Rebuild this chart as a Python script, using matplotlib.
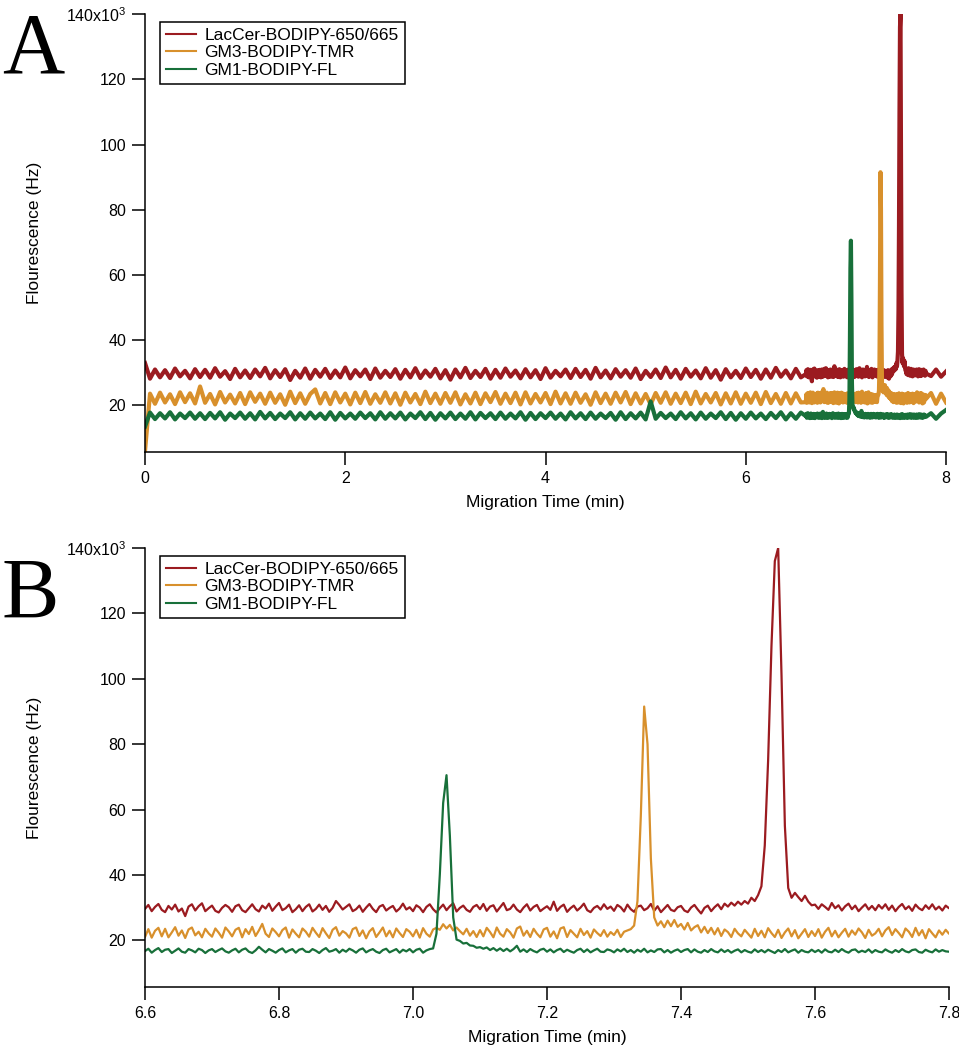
import numpy as np
import matplotlib
matplotlib.use('Agg')
import matplotlib.pyplot as plt

plt.rcParams['font.family'] = ['Liberation Sans', 'DejaVu Sans']
plt.rcParams['mathtext.fontset'] = 'custom'
plt.rcParams['mathtext.rm'] = 'Liberation Sans'
plt.rcParams['mathtext.it'] = 'Liberation Sans'
plt.rcParams['mathtext.bf'] = 'Liberation Sans'

names = ['LacCer-BODIPY-650/665', 'GM3-BODIPY-TMR', 'GM1-BODIPY-FL']
colors = ['#9b1b20', '#d8902c', '#18703a']

# sampling times (min): coarse 0-6.55, fine 6.6-7.8, coarse 7.85-8
t_early = np.arange(132) * 0.05
t_zoom = 6.6 + np.arange(241) * 0.005
t_late = np.array([7.85, 7.90, 7.95, 8.00])

# fluorescence, x10^3 Hz
lac_early = [
    33.0, 28.2, 31.0, 28.6, 30.8, 28.4, 31.3, 28.9, 30.6, 28.3, 31.1, 28.7,
    30.9, 28.5, 31.4, 28.8, 30.5, 28.1, 31.2, 28.6, 30.7, 28.4, 31.0, 28.9,
    31.5, 28.3, 30.8, 28.7, 31.1, 27.8, 30.6, 28.5, 31.3, 28.2, 30.9, 28.8,
    31.2, 28.4, 30.7, 28.6, 31.6, 28.3, 30.8, 28.9, 31.0, 28.1, 31.3, 28.5,
    30.6, 28.7, 31.1, 28.2, 30.9, 28.6, 31.4, 28.4, 30.7, 28.8, 31.2, 28.3,
    30.8, 27.9, 31.0, 28.6, 31.5, 28.4, 30.6, 28.7, 31.2, 28.2, 30.9, 28.5,
    31.3, 28.8, 30.7, 28.3, 31.1, 28.6, 30.8, 28.1, 31.4, 28.5, 30.6, 28.9,
    31.0, 28.4, 31.2, 28.7, 30.9, 28.2, 31.5, 28.6, 30.7, 28.3, 31.1, 28.8,
    30.8, 28.5, 31.3, 28.1, 30.6, 28.7, 31.0, 28.4, 31.6, 28.6, 30.9, 28.2,
    31.2, 28.8, 30.7, 28.3, 31.4, 28.5, 30.8, 27.9, 31.1, 28.6, 30.6, 28.4,
    31.3, 28.7, 30.9, 28.2, 31.0, 28.5, 31.5, 28.8, 30.7, 28.3, 31.2, 28.6,
]
lac_zoom = [
    29.6, 30.8, 28.9, 30.2, 31.1, 29.3, 28.6, 30.5, 29.4, 30.9, 28.8, 29.7, 27.4, 30.3, 31.0, 29.1, 30.4, 31.3, 28.9, 29.8,
    30.6, 29.0, 28.5, 29.9, 30.8, 30.1, 28.7, 30.4, 30.9, 29.2, 28.6, 29.8, 31.0, 29.5, 28.8, 30.6, 29.7, 31.2, 29.0, 30.3,
    31.4, 29.2, 29.8, 30.9, 28.6, 29.5, 30.7, 28.9, 30.2, 31.0, 28.8, 29.6, 30.9, 29.3, 30.5, 28.7, 29.9, 32.0, 30.8, 29.4,
    30.2, 31.0, 28.9, 29.5, 30.6, 28.7, 30.0, 31.1, 29.6, 28.6, 30.3, 30.8, 29.1, 29.9, 30.5, 28.8, 29.7, 31.2, 29.4, 30.1,
    28.9, 30.7, 30.0, 28.6, 30.2, 31.0, 29.5, 28.5, 29.8, 30.9, 29.2, 30.4, 31.3, 28.8, 29.9, 30.6, 29.3, 28.7, 30.2, 30.8,
    29.5, 31.1, 29.0, 30.3, 30.7, 28.8, 30.1, 31.4, 29.2, 29.6, 30.9, 29.4, 28.6, 30.0, 31.0, 29.1, 30.2, 30.8, 28.9, 29.7,
    30.4, 29.3, 31.8, 29.0, 30.2, 30.9, 28.7, 29.8, 30.6, 29.1, 30.0, 31.2, 29.2, 28.6, 29.9, 30.5, 29.4, 31.0, 29.6, 30.3,
    29.0, 30.8, 30.1, 28.8, 30.9, 29.5, 28.7, 30.3, 30.6, 29.2, 29.8, 31.1, 29.0, 30.4, 28.6, 29.7, 30.8, 29.3, 28.9, 30.1,
    30.5, 29.1, 28.6, 30.0, 30.8, 29.4, 28.2, 29.9, 30.6, 28.9, 30.1, 31.0, 29.5, 31.2, 30.3, 31.5, 30.6, 31.8, 30.9, 32.0,
    31.2, 33.0, 32.0, 33.8, 36.5, 49.0, 75.0, 110.0, 136.0, 140.0, 101.0, 55.0, 36.0, 33.0, 34.5, 33.2, 32.0, 33.6, 31.8, 30.7,
    30.9, 29.6, 31.0, 30.2, 29.3, 31.4, 29.8, 30.7, 29.1, 30.4, 31.2, 29.5, 30.6, 28.9, 30.0, 31.0, 29.4, 30.5, 29.2, 30.8,
    29.7, 31.0, 29.3, 30.6, 28.9, 30.2, 31.1, 29.5, 30.4, 29.0, 30.9, 29.8, 29.2, 30.7, 29.6, 31.0, 29.4, 30.3, 29.1, 30.6,
    29.8,
]
lac_late = [29.0, 31.0, 28.8, 30.4]

gm3_early = [
    6.0, 23.6, 20.5, 23.9, 20.9, 23.4, 20.4, 24.0, 21.0, 23.7, 20.6, 25.8,
    20.8, 23.5, 20.3, 24.1, 20.9, 23.3, 20.6, 23.8, 20.4, 24.0, 21.1, 23.6,
    20.5, 23.9, 20.8, 23.4, 20.2, 24.2, 20.7, 23.7, 20.5, 23.5, 24.9, 20.6,
    23.8, 20.4, 24.0, 20.9, 23.6, 20.3, 23.9, 20.7, 24.1, 20.5, 23.4, 20.8,
    24.0, 20.6, 23.7, 20.2, 23.9, 20.9, 23.5, 20.4, 24.2, 20.7, 23.6, 20.5,
    23.8, 20.8, 24.0, 20.3, 23.4, 20.6, 23.9, 20.4, 23.7, 21.0, 24.1, 20.5,
    23.6, 20.7, 23.9, 20.3, 24.0, 20.6, 23.5, 20.9, 23.8, 20.4, 24.2, 20.6,
    23.7, 20.5, 23.9, 20.8, 23.4, 20.2, 24.0, 20.7, 23.6, 20.5, 23.9, 20.9,
    24.1, 20.4, 23.7, 20.6, 23.5, 20.3, 23.8, 20.8, 24.0, 20.5, 23.6, 20.7,
    23.9, 20.4, 24.2, 20.6, 23.5, 20.9, 23.8, 20.3, 23.7, 20.6, 24.0, 20.5,
    23.6, 20.8, 23.9, 20.4, 24.1, 20.7, 23.5, 20.5, 23.8, 20.6, 23.7, 20.9,
]
gm3_zoom = [
    21.0, 23.4, 20.8, 22.9, 23.8, 21.2, 23.5, 20.9, 22.4, 24.0, 21.4, 23.0, 20.7, 23.3, 23.9, 21.5, 22.6, 20.9, 23.5, 22.1,
    21.1, 23.6, 22.3, 20.8, 23.9, 22.7, 21.2, 23.2, 23.8, 20.9, 23.4, 21.9, 24.1, 21.3, 23.0, 25.0, 22.0, 21.0, 23.6, 22.5,
    21.2, 23.1, 23.9, 20.8, 23.3, 22.0, 20.9, 23.6, 22.6, 21.1, 23.8, 22.3, 21.0, 23.7, 22.1, 20.7, 23.2, 24.0, 21.4, 22.8,
    22.1, 20.8, 23.4, 23.9, 21.3, 23.0, 20.6, 22.7, 23.7, 21.0, 22.4, 23.9, 21.2, 22.9, 20.9, 23.6, 22.2, 21.0, 23.4, 22.6,
    21.2, 23.2, 20.8, 23.7, 22.0, 21.1, 23.3, 23.8, 23.2, 24.9, 23.6, 24.7, 23.0, 23.9, 22.8, 21.8, 23.5, 21.4, 22.8, 21.0,
    23.1, 21.2, 23.8, 22.5, 20.9, 23.9, 22.0, 21.1, 23.4, 22.4, 20.8, 23.6, 24.2, 21.4, 22.9, 21.0, 23.5, 22.0, 20.9, 23.3,
    23.8, 21.1, 22.7, 20.6, 23.6, 24.0, 21.0, 23.1, 22.0, 20.9, 23.5, 21.6, 22.8, 20.8, 23.3, 22.2, 21.3, 23.1, 21.1, 22.5,
    21.6, 23.2, 21.0, 22.6, 23.0, 23.4, 24.5, 32.0, 58.0, 91.5, 80.0, 45.0, 27.0, 24.5, 25.8, 24.0, 26.0, 24.3, 26.2, 24.1,
    25.0, 23.3, 25.3, 23.0, 24.0, 24.6, 22.4, 24.1, 22.2, 23.8, 21.8, 23.7, 21.3, 23.3, 22.5, 21.0, 23.5, 22.1, 21.2, 23.2,
    22.0, 20.8, 23.5, 21.3, 22.9, 20.9, 23.7, 22.2, 21.0, 23.2, 20.7, 22.4, 23.6, 21.2, 23.1, 20.6, 22.0, 23.4, 21.0, 22.8,
    21.3, 23.4, 20.8, 22.6, 23.8, 21.2, 22.9, 20.9, 22.3, 23.5, 21.1, 23.0, 21.7, 23.6, 22.4, 20.7, 23.2, 21.4, 22.1, 23.5,
    21.2, 23.0, 24.0, 21.6, 23.4, 22.2, 20.9, 23.6, 22.6, 21.0, 23.8, 21.5, 23.1, 20.6, 23.4, 22.1, 20.9, 23.0, 21.7, 23.2,
    22.0,
]
gm3_late = [23.8, 20.5, 23.6, 20.9]

gm1_early = [
    13.5, 17.8, 15.8, 17.6, 16.0, 17.9, 15.7, 17.5, 16.1, 17.8, 15.9, 17.6,
    15.8, 17.7, 16.0, 17.9, 15.6, 17.5, 16.1, 17.8, 15.9, 17.6, 15.7, 18.0,
    16.0, 17.7, 15.8, 17.5, 16.1, 17.9, 15.7, 17.6, 15.9, 17.8, 16.0, 17.5,
    15.8, 17.9, 15.6, 17.7, 16.0, 17.5, 15.9, 17.8, 16.1, 17.6, 15.7, 17.9,
    15.9, 17.6, 16.0, 17.8, 15.7, 17.5, 16.1, 17.9, 15.8, 17.7, 15.6, 17.6,
    16.0, 17.8, 15.8, 17.5, 15.9, 17.9, 15.7, 17.7, 16.1, 17.6, 15.8, 17.8,
    15.9, 17.5, 16.0, 17.9, 15.6, 17.7, 15.8, 17.6, 16.1, 17.8, 15.9, 17.5,
    15.7, 17.9, 16.0, 17.6, 15.8, 17.8, 15.9, 17.5, 16.1, 17.7, 15.6, 17.9,
    15.8, 17.6, 16.0, 17.8, 15.7, 21.2, 15.9, 17.7, 16.1, 17.5, 15.8, 17.9,
    16.0, 17.6, 15.7, 17.8, 15.9, 17.5, 16.1, 17.9, 15.8, 17.7, 15.6, 17.6,
    15.9, 17.8, 16.0, 17.5, 15.8, 17.7, 16.1, 17.9, 15.7, 17.6, 15.9, 17.8,
]
gm1_zoom = [
    16.7, 17.4, 16.2, 17.0, 17.6, 16.4, 17.1, 17.3, 16.1, 16.8, 17.5, 16.5, 16.2, 17.3, 16.9, 16.3, 17.4, 17.0, 16.1, 16.9,
    17.3, 16.4, 17.0, 17.5, 16.6, 16.2, 16.9, 17.4, 16.3, 17.1, 17.5, 16.5, 16.1, 16.9, 18.0, 17.1, 16.3, 17.3, 16.8, 16.2,
    17.0, 17.5, 16.3, 16.9, 17.3, 16.2, 17.1, 17.4, 16.5, 16.4, 17.3, 16.8, 16.1, 17.0, 17.6, 16.5, 16.8, 17.3, 16.2, 17.1,
    16.5, 17.4, 16.9, 16.2, 17.1, 17.5, 16.3, 16.9, 17.3, 16.5, 16.1, 17.0, 17.4, 16.3, 16.8, 17.3, 16.2, 17.1, 16.6, 17.3,
    16.3, 17.1, 17.4, 16.2, 16.9, 17.3, 17.5, 22.0, 40.0, 62.0, 70.5, 52.0, 27.0, 20.2, 19.8, 19.0, 19.2, 18.4, 18.3, 17.7,
    17.9, 17.4, 17.8, 17.0, 17.6, 16.8, 17.5, 16.7, 17.4, 16.6, 17.3, 18.3, 16.5, 17.2, 16.4, 17.3, 16.7, 16.3, 17.1, 17.4,
    16.5, 17.2, 16.3, 17.0, 17.4, 16.4, 17.1, 16.6, 16.2, 17.0, 17.4, 16.4, 17.2, 16.3, 16.9, 17.4, 16.5, 16.4, 17.2, 16.9,
    16.3, 17.2, 16.6, 17.4, 16.4, 17.0, 16.2, 17.1, 16.5, 17.4, 16.3, 16.9, 16.4, 17.2, 17.3, 16.3, 17.0, 16.2, 16.8, 17.2,
    16.4, 17.0, 17.3, 16.3, 17.2, 16.5, 16.2, 17.0, 16.4, 17.3, 16.6, 16.3, 17.2, 16.4, 17.0, 16.2, 16.8, 17.2, 16.3, 17.0,
    16.5, 16.2, 17.2, 16.4, 17.0, 16.3, 17.1, 16.6, 16.1, 17.0, 16.4, 17.3, 16.3, 16.8, 17.2, 16.2, 17.0, 16.5, 16.3, 17.1,
    16.4, 17.0, 16.2, 17.2, 16.5, 16.3, 17.1, 16.4, 17.3, 16.6, 16.2, 17.0, 17.2, 16.3, 16.8, 16.4, 17.2, 16.2, 17.0, 16.5,
    16.3, 17.2, 16.6, 16.2, 17.0, 16.4, 17.3, 16.6, 16.3, 17.0, 17.2, 16.4, 16.2, 17.1, 16.6, 16.3, 17.2, 16.5, 17.0, 16.6,
    16.5,
]
gm1_late = [17.6, 15.9, 17.5, 18.6]

time = np.concatenate([t_early, t_zoom, t_late])
traces = [lac_early + lac_zoom + lac_late,
          gm3_early + gm3_zoom + gm3_late,
          gm1_early + gm1_zoom + gm1_late]
for tr in traces:
    assert len(tr) == len(time), len(tr)

ytick_vals = [20, 40, 60, 80, 100, 120, 140]
ytick_labels = ['20', '40', '60', '80', '100', '120', '140x10$^3$']


def draw(ax, xlim, xticks, xfmt, lw):
    for tr, c, n in zip(traces, colors, names):
        ax.plot(time, tr, color=c, lw=lw, label=n)
    ax.set_xlim(*xlim)
    ax.set_ylim(5.7, 140)
    ax.set_xticks(xticks)
    ax.set_xticklabels([xfmt % v for v in xticks])
    ax.set_yticks(ytick_vals)
    ax.set_yticklabels(ytick_labels)
    for s in ['top', 'right']:
        ax.spines[s].set_visible(False)
    for s in ['left', 'bottom']:
        ax.spines[s].set_linewidth(1.1)
    ax.tick_params(direction='out', length=9.5, width=1.1, labelsize=11.5, pad=4)
    ax.set_xlabel('Migration Time (min)', fontsize=12.5)
    ax.set_ylabel('Flourescence (Hz)', fontsize=12.5)
    ax.xaxis.set_label_coords(0.5, -0.097)
    ax.yaxis.set_label_coords(-0.128, 0.5)
    leg = ax.legend(loc='upper left', bbox_to_anchor=(0.019, 0.982), borderaxespad=0,
                    fontsize=12.5, handlelength=1.7, labelspacing=0.12,
                    fancybox=False, framealpha=1, edgecolor='black',
                    borderpad=0.35, handletextpad=0.5)
    leg.get_frame().set_linewidth(1.1)
    for h in leg.get_lines():
        h.set_linewidth(1.5)


fig = plt.figure(figsize=(9.59, 10.5), dpi=100)
axA = fig.add_axes([0.1512, 0.5695, 0.8353, 0.4171])
axB = fig.add_axes([0.1512, 0.0600, 0.8384, 0.4181])

draw(axA, (0, 8), [0, 2, 4, 6, 8], '%d', 3.0)
draw(axB, (6.6, 7.8), [6.6, 6.8, 7.0, 7.2, 7.4, 7.6, 7.8], '%.1f', 1.6)

fig.text(0.002, 0.9314, 'A', fontsize=62, family='Liberation Serif', va='baseline')
fig.text(0.002, 0.4114, 'B', fontsize=62, family='Liberation Serif', va='baseline')

fig.savefig('out.png', dpi=100)
